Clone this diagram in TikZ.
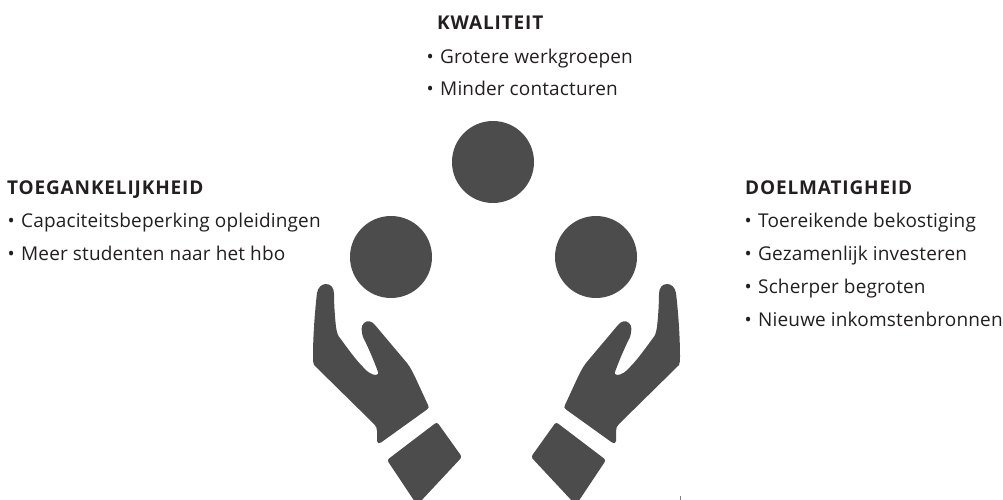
\documentclass[tikz,border=0pt]{standalone}
\usepackage{fontspec}
\setmainfont{Open Sans}
\definecolor{ink}{HTML}{4C4C4C}
\definecolor{txt}{HTML}{231F20}
\newcommand{\handshape}{%
  \fill[ink] (313,357) .. controls (313,335) and (315,310) .. (317,293) .. controls (318,287) and (322,284) .. (326,284) .. controls (331,284) and (334,288) .. (334,294) .. controls (334,305) and (335,318) .. (336,327) .. controls (337,333) and (338,336) .. (340,338) .. controls (348,349) and (356,360) .. (363,367) .. controls (367,372) and (372,375) .. (376,375) .. controls (379,375) and (378,373) .. (378,372) .. controls (373,358) and (367,345) .. (363,337) .. controls (361,330) and (361,326) .. (364,323) .. controls (367,320) and (372,321) .. (375,325) -- (407,363) .. controls (411,368) and (414,375) .. (416,379) -- (428,405) .. controls (429,407) and (429,408) .. (427,409.5) -- (381,442.5) .. controls (379,444) and (377,443) .. (377,441) -- (377,431) .. controls (377,428) and (376,426) .. (374,424) -- (314,365) .. controls (313,363) and (313,360) .. (313,357) -- cycle;
  \fill[ink,rounded corners=2.5pt] (437,422) -- (387,460) -- (415,502) -- (420,502) -- (462,457) -- cycle;
}
\tikzset{
  x=1pt,y=-1pt,
  lab/.style={anchor=base west,inner sep=0pt,text=txt,font=\fontsize{19}{20}\selectfont\addfontfeature{LetterSpace=0.8}},
  hd/.style={anchor=base west,inner sep=0pt,text=txt,font=\fontsize{19}{20}\selectfont\bfseries\addfontfeature{LetterSpace=4.5}},
  ball/.style={circle,fill=ink,inner sep=0pt,minimum size=82pt}
}
\newcommand{\itm}[1]{\makebox[13.5pt][l]{•}#1}
\begin{document}
\begin{tikzpicture}
\useasboundingbox (0,0) rectangle (1003,500);
\handshape
\begin{scope}[xshift=993pt,xscale=-1]
\handshape
\end{scope}
\node[ball] (top) at (493,162) {};
\node[ball] (left) at (391,257) {};
\node[ball] (right) at (596,257) {};
\draw[gray,line width=0.5pt] (680,496) -- (680,500);
\node[hd] (kh) at (437,30) {KWALITEIT};
\node[lab] (k1) at (426.5,64) {\itm{Grotere werkgroepen}};
\node[lab] (k2) at (426.5,96) {\itm{Minder contacturen}};
\node[hd] (th) at (7,194) {TOEGANKELIJKHEID};
\node[lab] (t1) at (7.5,227) {\itm{Capaciteitsbeperking opleidingen}};
\node[lab] (t2) at (7.5,260) {\itm{Meer studenten naar het hbo}};
\node[hd] (dh) at (745,194) {DOELMATIGHEID};
\node[lab] (d1) at (744.5,227) {\itm{Toereikende bekostiging}};
\node[lab] (d2) at (744.5,260) {\itm{Gezamenlijk investeren}};
\node[lab] (d3) at (744.5,293) {\itm{Scherper begroten}};
\node[lab] (d4) at (744.5,326) {\itm{Nieuwe inkomstenbronnen}};
\end{tikzpicture}
\end{document}
